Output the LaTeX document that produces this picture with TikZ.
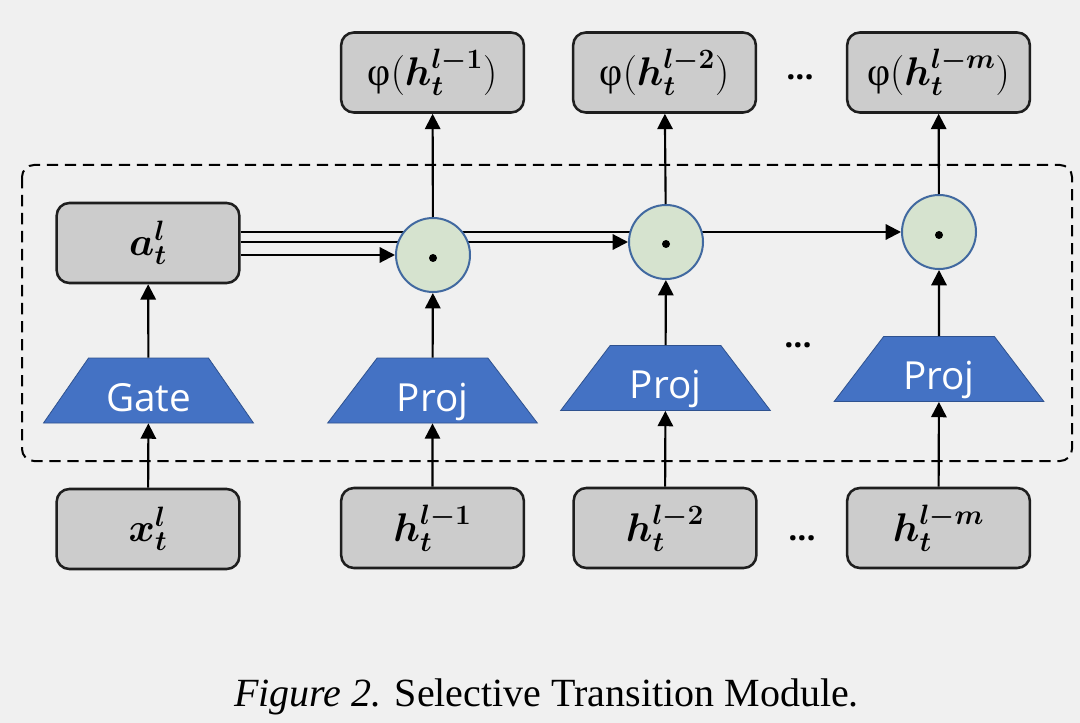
\documentclass[tikz,border=0pt]{standalone}
\usepackage{fix-cm}
\usepackage{amsmath,bm}
\usepackage{fontspec}
\newfontfamily\capfont{Liberation Serif}
\newfontfamily\grk{Liberation Serif}
\newfontfamily\sansf{Open Sans}
\usetikzlibrary{shapes.geometric,arrows.meta,backgrounds,calc}
\definecolor{bgcol}{RGB}{240,240,240}
\definecolor{boxfill}{RGB}{204,204,204}
\definecolor{boxline}{RGB}{30,30,30}
\definecolor{trapfill}{RGB}{68,114,196}
\definecolor{trapline}{RGB}{47,82,143}
\definecolor{circfill}{RGB}{214,227,207}
\definecolor{circline}{RGB}{65,105,160}
\begin{document}
\begin{tikzpicture}[x=0.75pt,y=-0.75pt,
 box/.style={draw=boxline, fill=boxfill, line width=1.9pt, rounded corners=9.5pt,
   minimum width=137pt, minimum height=60pt, inner sep=0pt,
   font=\fontsize{30}{32}\selectfont},
 trap/.style={trapezium, trapezium stretches=true, trapezium angle=52.5,
   minimum width=157.5pt, minimum height=48.75pt, fill=trapfill, draw=trapline,
   line width=0.6pt, text=white, font=\sansf\fontsize{29}{31}\selectfont,
   text height=31.2pt, text depth=0pt, inner sep=0pt},
 mult/.style={circle, draw=circline, fill=circfill, line width=1.5pt,
   minimum size=55.5pt, inner sep=0pt},
 arr/.style={line width=1.6pt, -{Triangle[length=11.5pt,width=11.5pt]}},
 dotsn/.style={font=\sansf\bfseries\fontsize{24}{26}\selectfont, anchor=base, inner sep=0pt},
 modbox/.style={draw=black, line width=1.5pt, dash pattern=on 8.5pt off 5pt, rounded corners=9pt}
]
\useasboundingbox (0,0) rectangle (1080,723);

% module frame
\draw[modbox] (22,165) rectangle (1072,461);

% top outputs
\node[box] (t1) at (432.5,72.5) {{\grk φ}$(\bm{h_t^{l-1}})$};
\node[box] (t2) at (664.5,72.5) {{\grk φ}$(\bm{h_t^{l-2}})$};
\node[box] (t3) at (938.5,72.5) {{\grk φ}$(\bm{h_t^{l-m}})$};

% gate output
\node[box] (a) at (148,243) {$\bm{a_t^l}$};

% multipliers
\node[mult] (c1) at (433,255) {};
\node[mult] (c2) at (666,242) {};
\node[mult] (c3) at (939,232) {};
\fill ($(c1.center)+(0,3)$) circle[radius=4];
\fill ($(c2.center)+(0,2)$) circle[radius=4];
\fill ($(c3.center)+(0,3)$) circle[radius=4];

% gate / proj
\node[trap] (g)  at (148.5,390.5) {Gate};
\node[trap] (p1) at (432.5,390.5) {Proj};
\node[trap] (p2) at (665.5,378) {Proj};
\node[trap] (p3) at (939,369) {Proj};

% inputs
\node[box] (x)  at (148,529) {$\bm{x_t^l}$};
\node[box] (h1) at (432.5,528) {$\bm{h_t^{l-1}}$};
\node[box] (h2) at (665,528) {$\bm{h_t^{l-2}}$};
\node[box] (hm) at (938.5,528) {$\bm{h_t^{l-m}}$};

% ellipses
\node[dotsn] (d1) at (800,80) {...};
\node[dotsn] (d2) at (798,347) {...};
\node[dotsn] (d3) at (802,540) {...};

% caption
\node[anchor=base, inner sep=0pt, font=\capfont\fontsize{30}{32}\selectfont] (cap) at (546.5,706)
  {\itshape Figure 2.\upshape{} Selective Transition Module.};

% vertical connectors
\draw[arr] (x) -- (g);
\draw[arr] (g) -- (a);
\draw[arr] (h1) -- (p1);
\draw[arr] (h2) -- (p2);
\draw[arr] (hm) -- (p3);
\draw[arr] (p1) -- (c1);
\draw[arr] (p2) -- (c2);
\draw[arr] (p3) -- (c3);
\draw[arr] (c1) -- (t1);
\draw[arr] (c2) -- (t2);
\draw[arr] (c3) -- (t3);

\begin{pgfonlayer}{background}
\fill[bgcol] (0,0) rectangle (1080,723);
\draw[arr] (a.east |- c1.west) -- (c1.west);
\draw[arr] (a.east |- c2.west) -- (c2.west);
\draw[arr] (a.east |- c3.west) -- (c3.west);
\end{pgfonlayer}
\end{tikzpicture}
\end{document}
